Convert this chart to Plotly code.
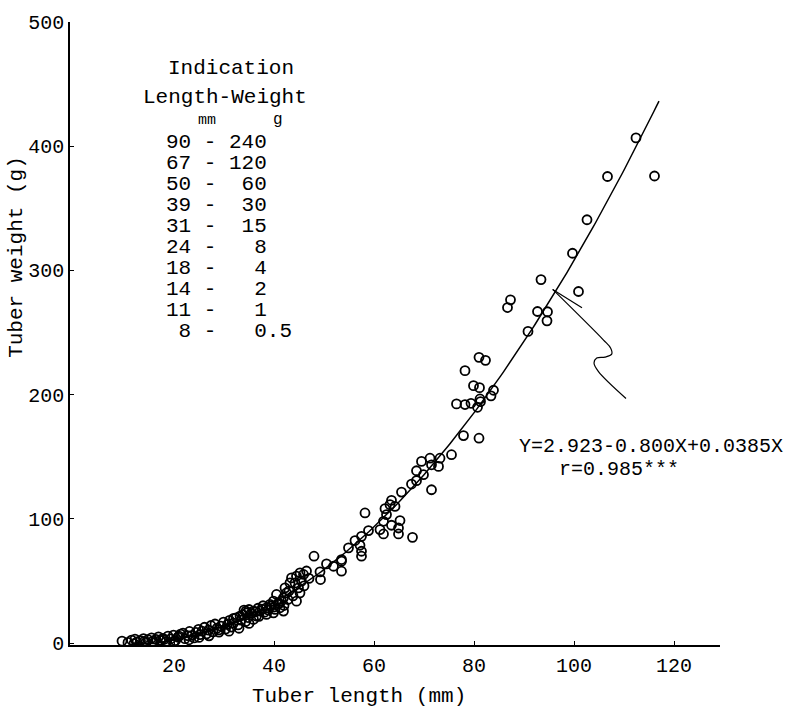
import numpy as np
import plotly.graph_objects as go

# ---------------- data ----------------
length_mm = [
    112.4, 116.1, 106.7, 102.6, 99.7, 100.9, 93.4, 87.3, 86.7, 92.7, 94.7, 94.6, 90.8,
    81.0, 82.3, 78.2, 79.9, 81.1, 83.9, 83.4, 81.2, 81.3, 80.7, 76.5, 78.2, 79.4, 77.9, 81.0,
    75.5, 73.2, 71.5, 72.9, 71.5, 71.2, 69.5, 68.5, 69.9, 68.5, 67.5, 65.5, 63.5, 63.2, 62.2,
    64.2, 58.2, 62.5, 61.9, 65.2, 63.5, 64.9, 61.2, 64.9, 61.9, 67.7, 58.9, 57.5, 56.2, 54.9,
    57.2, 57.5, 57.5, 53.5, 48.0, 50.5, 51.9, 53.5, 53.5, 49.2, 49.3,
    45.9, 45.2, 44.5, 43.5, 45.5, 44.2, 43.2, 44.9, 45.2, 42.2, 42.5, 44.5, 41.9, 40.5, 39.9,
    39.2, 38.5, 37.2, 35.9, 34.5, 33.2, 31.9, 41.2, 41.9, 39.9, 38.5, 36.5, 46.5, 47.0, 46.0,
    43.0, 41.0, 40.0, 43.8, 42.8, 37.8, 36.8, 35.0, 34.0, 34.4,
    9.6, 10.8, 11.5, 12.2, 12.6, 13.3, 13.9, 14.4, 14.8, 15.5, 15.8, 16.4, 16.9, 17.3, 17.8,
    18.4, 18.8, 19.3, 19.9, 20.3, 20.8, 21.3, 21.8, 22.2, 22.7, 23.1, 23.6, 24.0, 24.4, 24.9,
    25.2, 25.6, 26.1, 26.5, 26.9, 27.4, 27.8, 28.2, 28.6, 29.0, 29.4, 29.9, 30.3, 30.7, 31.1,
    31.5, 31.9, 32.4, 32.8, 33.4, 33.8, 34.3, 34.8, 35.4, 35.9, 36.3, 37.0, 37.6, 38.1, 38.8,
    39.4, 40.2, 40.8, 41.5, 42.0, 12.0, 14.0, 16.0, 18.0, 20.0, 21.0, 23.0, 25.0, 27.0, 29.0,
    31.0, 33.0, 35.0,
]
weight_g = [
    406.7, 376.0, 375.6, 340.8, 313.8, 283.0, 292.6, 276.3, 270.1, 266.9, 266.7, 259.4, 250.9,
    230.0, 227.6, 219.3, 207.2, 205.6, 203.5, 199.0, 196.5, 194.4, 189.8, 192.5, 192.0, 193.0, 167.0, 164.9,
    151.6, 148.8, 123.4, 142.2, 143.5, 148.8, 146.2, 138.7, 135.5, 130.7, 128.0, 121.5, 114.9, 111.4, 108.2,
    110.0, 104.7, 103.4, 98.0, 98.6, 94.8, 92.6, 91.3, 87.8, 87.8, 85.1, 90.5, 85.9, 82.5, 76.6,
    78.7, 73.9, 69.9, 67.2, 69.9, 63.7, 61.8, 65.9, 57.8, 57.3, 51.1,
    55.2, 56.5, 53.8, 52.4, 49.8, 48.4, 48.4, 44.4, 40.4, 44.4, 40.4, 33.7, 36.4, 39.1, 33.7,
    31.1, 28.4, 25.7, 25.7, 24.3, 21.7, 19.8, 28.4, 25.7, 24.3, 23.0, 21.7, 58.0, 52.0, 46.0,
    42.0, 32.0, 29.0, 38.0, 35.0, 30.0, 28.0, 27.0, 26.5, 25.7,
    1.6, 0.5, 2.4, 3.2, 0.8, 1.9, 3.6, 0.6, 2.7, 4.1, 1.5, 3.0, 5.0, 2.1, 3.8,
    1.2, 5.6, 3.3, 6.4, 2.0, 4.7, 7.1, 8.0, 3.5, 5.9, 9.3, 6.2, 4.1, 8.6, 11.0,
    6.8, 9.5, 12.7, 7.4, 10.3, 14.1, 9.0, 15.3, 11.9, 8.8, 13.6, 16.8, 11.2, 14.9, 18.2,
    12.8, 16.0, 20.3, 14.6, 18.4, 22.6, 17.1, 20.5, 23.8, 19.0, 25.2, 21.5, 27.3, 24.8, 26.6,
    29.8, 27.1, 31.7, 34.0, 30.2, -0.5, 1.2, 0.3, 2.8, 1.3, 5.5, 2.6, 4.5, 5.8, 10.6,
    9.5, 11.9, 15.8,
]

# regression Y = 2.923 - 0.800X + 0.0385X^2 (coefficients as printed)
fit_coef = [0.0385, -0.800, 2.923]
fit_x_range = [12, 117]

# indication table
ind_length = [90, 67, 50, 39, 31, 24, 18, 14, 11, 8]
ind_weight = ["240", "120", "60", "30", "15", "8", "4", "2", "1", "0.5"]

x_ticks = [20, 40, 60, 80, 100, 120]
y_ticks = [0, 100, 200, 300, 400, 500]

# hand-drawn pointer from equation to curve (data coords)
ptr_long_x = [95.74, 105.86, 107.34, 107.54, 106.2, 104.54, 104.0, 104.86, 110.4]
ptr_long_y = [284.7, 244.1, 237.4, 232.6, 230.2, 229.4, 225.4, 218.7, 196.9]
ptr_short_x = [95.74, 101.6]
ptr_short_y = [284.7, 270.0]

# ---------------- figure ----------------
FONT = "Liberation Mono, Courier New, monospace"
W, H = 798, 711
ML, MR, MT, MB = 70, 78, 19, 66
PW, PH = W - ML - MR, H - MT - MB


def px(x):
    return (x - ML) / PW


def py(y):
    return (H - MB - y) / PH


fig = go.Figure()

fx = np.linspace(fit_x_range[0], fit_x_range[1], 200)
fig.add_trace(go.Scatter(x=fx, y=np.polyval(fit_coef, fx), mode="lines",
                         line=dict(color="black", width=1.5), hoverinfo="skip"))

fig.add_trace(go.Scatter(x=length_mm, y=weight_g, mode="markers",
                         marker=dict(symbol="circle-open", size=9, color="black",
                                     line=dict(width=1.8, color="black"))))

fig.add_trace(go.Scatter(x=ptr_long_x, y=ptr_long_y, mode="lines",
                         line=dict(color="black", width=1.2, shape="spline"), hoverinfo="skip"))
fig.add_trace(go.Scatter(x=ptr_short_x, y=ptr_short_y, mode="lines",
                         line=dict(color="black", width=1.2), hoverinfo="skip"))

ann = []


def add_text(text, x, y, size=21, xanchor="center", angle=0):
    ann.append(dict(text=text, x=px(x), y=py(y), xref="paper", yref="paper",
                    xanchor=xanchor, yanchor="middle", showarrow=False, textangle=angle,
                    font=dict(family=FONT, size=size, color="black")))


add_text("Indication", 231, 66)
add_text("Length-Weight", 225, 95)
add_text("mm", 207, 118, size=15)
add_text("g", 278, 117, size=16)

row_y0, row_dy = 140.5, 21.1
for i, (l, w) in enumerate(zip(ind_length, ind_weight)):
    ip = w.split(".")[0]
    s = f"{l:>2} - {ip:>3}" + (w[len(ip):] if "." in w else "")
    add_text(s.replace(" ", "\u00a0"), 164, row_y0 + i * row_dy, xanchor="left")

add_text("Y=2.923-0.800X+0.0385X", 517, 446, size=20, xanchor="left")
add_text("r=0.985***", 557, 469, size=20, xanchor="left")

add_text("Tuber length (mm)", 359, 697)
add_text("Tuber weight (g)", 17, 255, angle=-90)

axis_common = dict(showgrid=False, zeroline=False, showline=True, linecolor="black",
                   linewidth=1.6, ticks="inside", ticklen=4, tickcolor="black",
                   tickfont=dict(family=FONT, size=20, color="black"))

fig.update_layout(
    width=W, height=H, margin=dict(l=ML, r=MR, t=MT, b=MB),
    paper_bgcolor="white", plot_bgcolor="white", showlegend=False,
    annotations=ann,
    xaxis=dict(range=[-0.8, 129.2], tickvals=x_ticks, ticklabelstandoff=1, **axis_common),
    yaxis=dict(range=[-1.6, 500], tickvals=y_ticks, ticklabelstandoff=0, **axis_common),
)

fig.write_html("out.html")
